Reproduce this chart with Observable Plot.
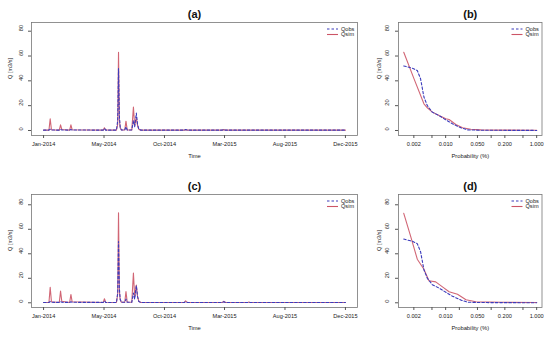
<!DOCTYPE html>
<html><head><meta charset="utf-8">
<script src="https://cdn.jsdelivr.net/npm/d3@7"></script>
<script src="https://cdn.jsdelivr.net/npm/@observablehq/plot@0.6"></script>
<style>
body{margin:0;background:#fff;}
#wrap{position:relative;width:550px;height:338px;overflow:hidden;font-family:"Liberation Sans",Arial,sans-serif;}
#wrap > svg{position:absolute;}
</style></head><body><div id="wrap"></div>
<script>
// ---- time series (panels a, c) ----
const dates = ["2014-01-01","2014-01-14","2014-01-17","2014-01-20","2014-02-08","2014-02-11","2014-02-14",
  "2014-03-05","2014-03-08","2014-03-11","2014-05-25","2014-05-28","2014-05-31","2014-06-26","2014-06-29",
  "2014-07-01","2014-07-03","2014-07-05","2014-07-08","2014-07-16","2014-07-19","2014-07-22","2014-08-02",
  "2014-08-06","2014-08-09","2014-08-13","2014-08-16","2014-08-19","2014-08-24","2014-12-07","2014-12-10",
  "2014-12-14","2015-03-09","2015-03-12","2015-03-16","2015-05-09","2015-05-12","2015-05-15","2015-12-31"];
const qObs  = [0.3,0.3,1.0,0.4,0.3,0.9,0.4, 0.3,0.8,0.4,0.3,1.5,0.3,0.3,8, 50,12,3,0.4,0.4,3,0.4,0.4,
  8,3,14,5,1,0.3,0.3,0.8, 0.3,0.3,0.8,0.3,0.3,0.3,0.3,0.3];
const qSimA = [0.3,0.3,9.4,0.6,0.3,4.6,0.8, 0.3,4.6,0.6,0.3,2.2,0.4,0.3,5, 63,9,2,0.5,0.4,7.5,0.5,0.4,
  18.8,4,10,4,1,0.3,0.3,0.7, 0.3,0.3,0.7,0.3,0.3,0.3,0.3,0.3];
const qSimC = [0.3,0.3,12.7,0.8,0.3,9.5,1.2, 0.3,6.8,0.8,0.3,3.3,0.4,0.3,7, 73.5,10,2.5,0.5,0.4,9.2,0.6,0.4,
  24.2,5,14.5,5,1.2,0.3,0.3,1.6, 0.3,0.3,1.2,0.3,0.3,0.6,0.3,0.3];
const timeTicks = ["2014-01-01","2014-05-27","2014-10-20","2015-03-14","2015-08-07","2015-12-31"];
const timeTickLabels = ["Jan-2014","May-2014","Oct-2014","Mar-2015","Aug-2015","Dec-2015"];
const yTicks = [0,20,40,60,80];

// ---- flow duration curves (panels b, d) ----
const obsProb  = [0.0012,0.00185,0.00238,0.00281,0.00333,0.00396,0.0051,0.00715,0.0101,0.0141,0.0216,0.0303,0.06,1.0];
const obsFdc   = [52,50.2,48.3,41.7,27,20,14.8,12,8.6,5.4,2.2,0.5,0.2,0.05];
const simProbB = [0.0012,0.002,0.00333,0.00396,0.0051,0.00715,0.0101,0.0119,0.0167,0.0236,0.0357,0.06,0.166,1.0];
const simFdcB  = [63,42,21.5,18.3,14.8,12,9.4,8.9,4.8,2.2,1,0.5,0.3,0.2];
const simProbD = [0.0012,0.00169,0.00238,0.00333,0.00429,0.00604,0.00851,0.0119,0.0182,0.028,0.046,0.166,1.0];
const simFdcD  = [73,54.7,35.6,27.4,18,17.1,13,9,7,2.5,0.8,0.4,0.3];
const probTicks = [0.002,0.005,0.01,0.02,0.05,0.1,0.2,0.5,1];
const probTickLabels = ["0.002","","0.010","","0.050","","0.200","","1.000"];

const C_OBS = "#3c3cbc", C_SIM = "#cc5566";
const FONT = "Liberation Sans, Arial, sans-serif";
const parse = d3.utcParse("%Y-%m-%d");
const toPts = (xs, ys, fx) => xs.map((d, i) => ({x: fx ? fx(d) : d, y: ys[i]}));

function panel(o) {
  const H = 168, boxTop = 22, boxH = 113;
  const svg = Plot.plot({
    width: o.width, height: H,
    marginLeft: o.ml, marginRight: o.mr, marginTop: boxTop, marginBottom: H - boxTop - boxH,
    style: {fontFamily: FONT, background: "transparent", overflow: "visible", color: "#222"},
    x: {...o.x, label: null},
    y: {domain: o.yDomain, label: null},
    marks: [
      Plot.line(o.sim, {x: "x", y: "y", stroke: C_SIM, strokeWidth: 1.1, strokeOpacity: 0.9}),
      Plot.line(o.obs, {x: "x", y: "y", stroke: C_OBS, strokeWidth: 1.1, strokeDasharray: "2.5,2"}),
      Plot.frame({stroke: "#777", strokeWidth: 0.8}),
      Plot.axisX({ticks: o.xTicks, tickSize: 3, tickFormat: () => "", label: null, stroke: "#555"}),
      Plot.axisY({ticks: yTicks, tickSize: 3, tickFormat: () => "", label: null, stroke: "#555"}),
      Plot.text(o.xTicks, {x: d => d, text: (d, i) => o.xTickLabels[i], frameAnchor: "bottom", dy: 10, fontSize: 5.6, fill: "#222"}),
      Plot.text(yTicks, {y: d => d, text: d => String(d), frameAnchor: "left", dx: o.ytdx, rotate: -90, fontSize: 5.6, fill: "#222"}),
      Plot.text([o.xlabel], {frameAnchor: "bottom", dy: 22, fontSize: 5.8, fill: "#222"}),
      Plot.text(["Q [m3/s]"], {frameAnchor: "left", dx: o.yldx, rotate: -90, fontSize: 5.6, fill: "#222"}),
      Plot.text([o.title], {frameAnchor: "top", dy: -12, fontSize: 11, fontWeight: "bold", fill: "#111"})
    ]
  });
  svg.style.left = o.left + "px";
  svg.style.top = o.top + "px";
  // legend (top-right, inside box)
  const right = o.width - o.mr;
  const g = d3.select(svg).append("g").attr("font-family", FONT).attr("font-size", 5.6)
    .attr("fill", "#222").attr("text-anchor", "start");
  const items = [["Qobs", C_OBS, "2.5,2"], ["Qsim", C_SIM, null]];
  items.forEach(([name, col, dash], k) => {
    const yy = boxTop + 7 + k * 5.5;
    g.append("line").attr("x1", right - 30).attr("x2", right - 19).attr("y1", yy).attr("y2", yy)
      .attr("stroke", col).attr("stroke-width", 1.1).attr("stroke-dasharray", dash);
    g.append("text").attr("x", right - 16).attr("y", yy).attr("dy", "0.35em").text(name);
  });
  document.getElementById("wrap").appendChild(svg);
}

const t0 = parse("2014-01-01"), t1 = parse("2015-12-31");
const pad = (t1 - t0) * 0.04;
const timeX = {type: "utc", domain: [new Date(+t0 - pad), new Date(+t1 + pad)]};
const probX = {type: "log", domain: [0.00092, 1.31]};
const tTicks = timeTicks.map(parse);

panel({left: 0, top: 0, width: 360, ml: 31, mr: 3, x: timeX, yDomain: [-4.03, 87.0],
  obs: toPts(dates, qObs, parse), sim: toPts(dates, qSimA, parse),
  xTicks: tTicks, xTickLabels: timeTickLabels, xlabel: "Time", title: "(a)", ytdx: -10, yldx: -21});
panel({left: 360, top: 0, width: 190, ml: 38, mr: 8.5, x: probX, yDomain: [-4.03, 87.0],
  obs: toPts(obsProb, obsFdc), sim: toPts(simProbB, simFdcB),
  xTicks: probTicks, xTickLabels: probTickLabels, xlabel: "Probability (%)", title: "(b)", ytdx: -11, yldx: -19});
panel({left: 0, top: 172, width: 360, ml: 31, mr: 3, x: timeX, yDomain: [-3.84, 88.4],
  obs: toPts(dates, qObs, parse), sim: toPts(dates, qSimC, parse),
  xTicks: tTicks, xTickLabels: timeTickLabels, xlabel: "Time", title: "(c)", ytdx: -10, yldx: -21});
panel({left: 360, top: 172, width: 190, ml: 38, mr: 8.5, x: probX, yDomain: [-3.84, 88.4],
  obs: toPts(obsProb, obsFdc), sim: toPts(simProbD, simFdcD),
  xTicks: probTicks, xTickLabels: probTickLabels, xlabel: "Probability (%)", title: "(d)", ytdx: -11, yldx: -19});
</script></body></html>
